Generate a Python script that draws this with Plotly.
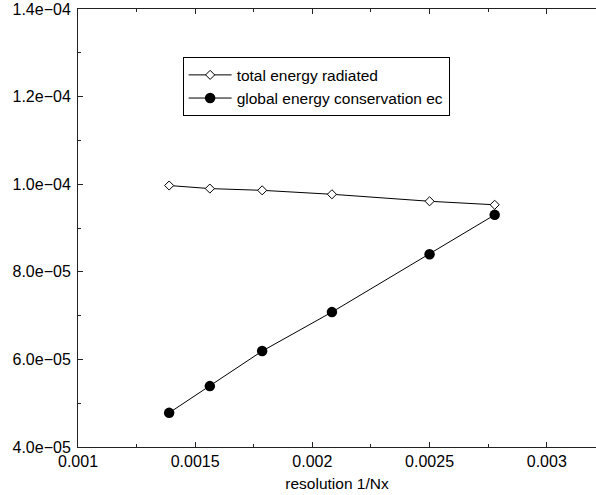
import plotly.graph_objects as go

# data
resolution = [1/720, 1/640, 1/560, 1/480, 1/400, 1/360]
total_energy_radiated = [9.97e-5, 9.90e-5, 9.86e-5, 9.77e-5, 9.61e-5, 9.53e-5]
global_energy_conservation = [4.78e-5, 5.39e-5, 6.19e-5, 7.08e-5, 8.40e-5, 9.30e-5]

x_tickvals = [0.001, 0.0015, 0.002, 0.0025, 0.003]
x_ticktext = ["0.001", "0.0015", "0.002", "0.0025", "0.003"]
y_tickvals = [4e-5, 6e-5, 8e-5, 1.0e-4, 1.2e-4, 1.4e-4]
y_ticktext = ["4.0e\u221205", "6.0e\u221205", "8.0e\u221205", "1.0e\u221204", "1.2e\u221204", "1.4e\u221204"]

FONT = "Liberation Sans, Arial, Helvetica, sans-serif"
FS = 15.5
TFS = 16

fig = go.Figure()
fig.add_trace(go.Scatter(
    x=resolution, y=total_energy_radiated, mode="lines+markers",
    name="total energy radiated",
    line=dict(color="black", width=1),
    marker=dict(symbol="diamond", size=7, color="white", line=dict(color="black", width=1)),
))
fig.add_trace(go.Scatter(
    x=resolution, y=global_energy_conservation, mode="lines+markers",
    name="global energy conservation ec",
    line=dict(color="black", width=1),
    marker=dict(symbol="circle", size=10.5, color="black", line=dict(color="black", width=0)),
))

axis_common = dict(
    showline=True, linecolor="#222", linewidth=1,
    ticks="inside", ticklen=5, tickwidth=1, tickcolor="#222",
    showgrid=False, zeroline=False,
    tickfont=dict(family=FONT, size=TFS, color="black"),
)

fig.update_xaxes(
    range=[0.001, 0.00321], tickmode="array", tickvals=x_tickvals, ticktext=x_ticktext,
    mirror="ticks",
    minor=dict(ticks="inside", ticklen=3, tick0=0.001, dtick=0.00025, tickcolor="#222", showgrid=False),
    title=dict(text="resolution 1/Nx", font=dict(family=FONT, size=FS, color="black"), standoff=8),
    **axis_common,
)
fig.update_yaxes(
    range=[4e-5, 1.4e-4], tickmode="array", tickvals=y_tickvals, ticktext=y_ticktext,
    mirror=False,
    minor=dict(ticks="inside", ticklen=3, tick0=4e-5, dtick=1e-5, tickcolor="#222", showgrid=False),
    ticklabelstandoff=3,
    **axis_common,
)

fig.update_layout(
    width=596, height=495,
    margin=dict(l=78, r=0, t=9, b=48),
    paper_bgcolor="white", plot_bgcolor="white",
    font=dict(family=FONT, size=FS, color="black"),
    showlegend=True,
    legend=dict(
        x=0.202, y=0.8897, xanchor="left", yanchor="top",
        bordercolor="black", borderwidth=1, bgcolor="white",
        font=dict(family=FONT, size=FS, color="black"),
        itemwidth=43, tracegroupgap=0,
    ),
)

fig.write_html("out.html")
